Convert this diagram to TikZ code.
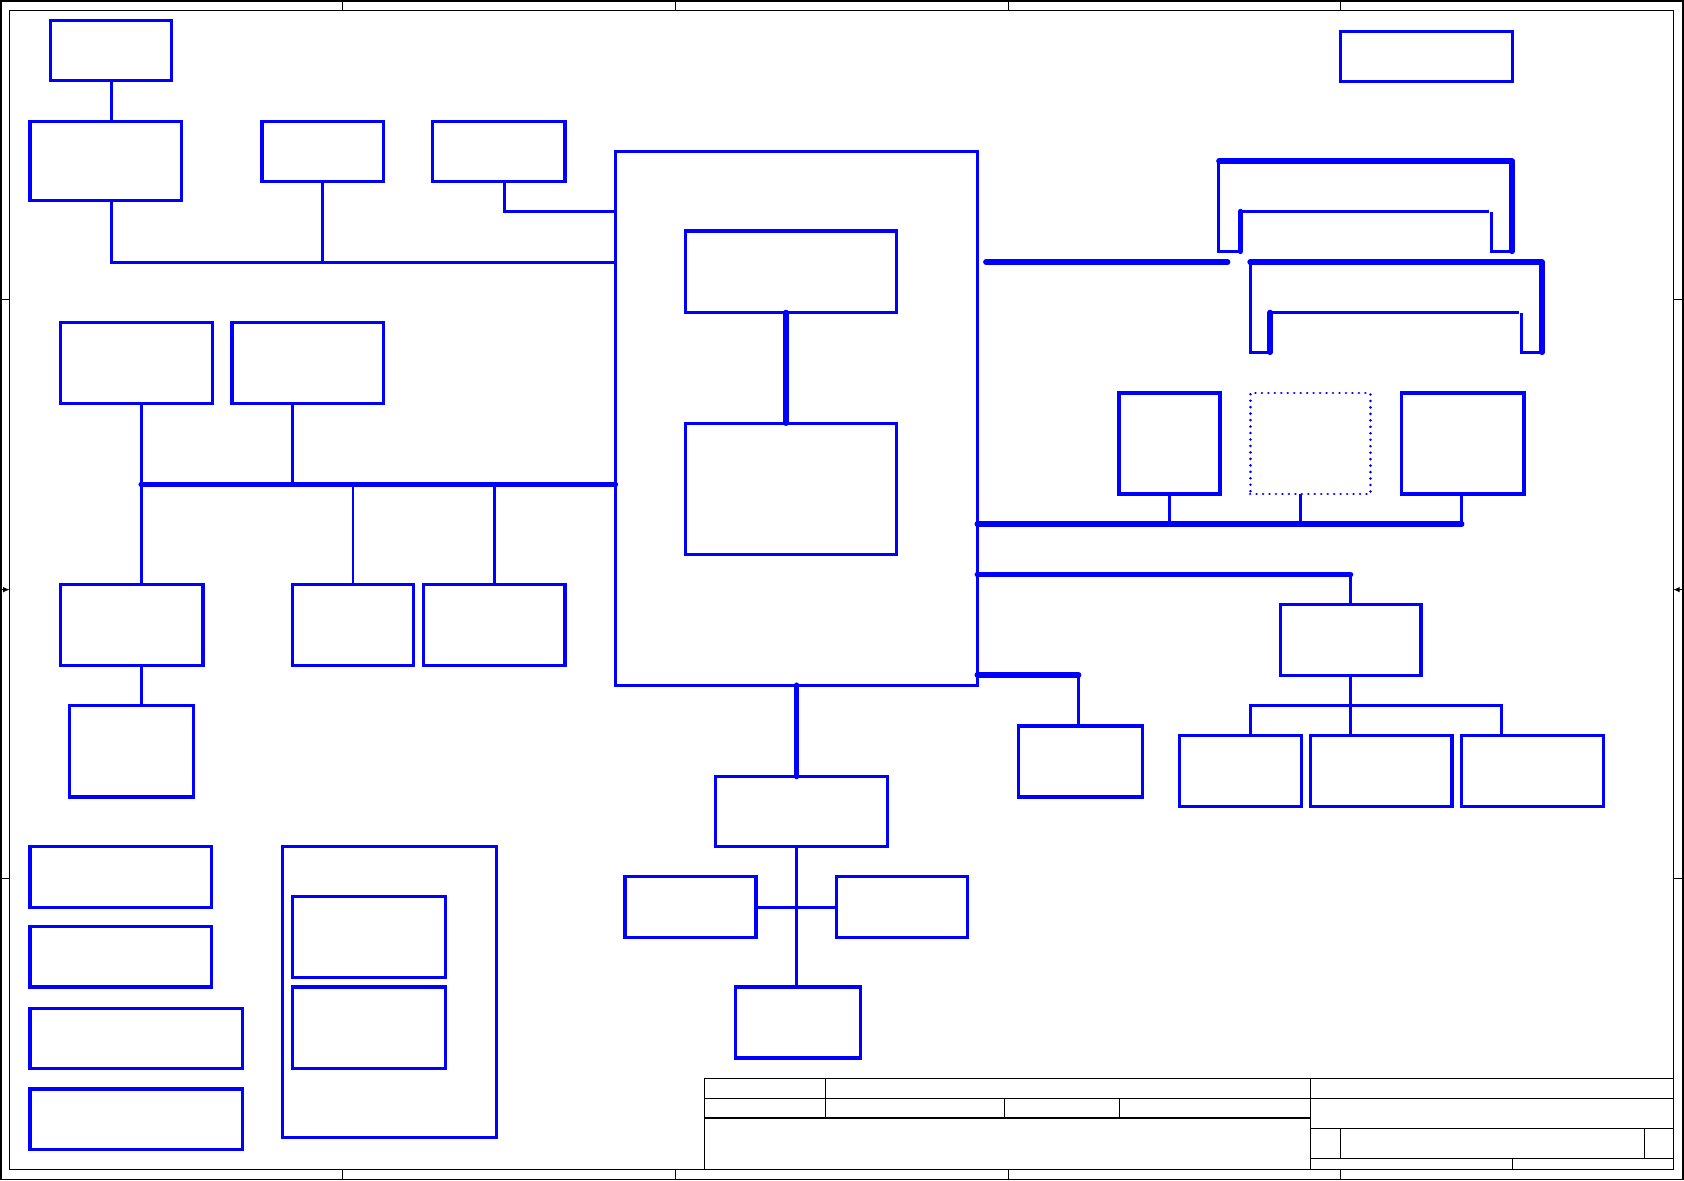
\documentclass[tikz,border=0pt]{standalone}
\usetikzlibrary{fit,arrows.meta}
\definecolor{sb}{RGB}{0,0,255}
\tikzset{
  box/.style={draw=sb, line width=1.5pt, inner sep=0pt, outer sep=0pt},
  dotbox/.style={draw=sb, line width=1.3pt, inner sep=0pt, outer sep=0pt, dash pattern=on 0.01pt off 3pt, line cap=round},
  wire/.style={draw=sb, line width=1.4pt},
  hairwire/.style={draw=sb, line width=0.9pt},
  bus/.style={draw=sb, line width=2.6pt, line cap=round, line join=round},
  frameline/.style={draw=black, line width=0.55pt},
}
\newcommand\bx[6][box]{\node[#1, fit={(#3,#4)(#5,#6)}] (#2) {};}
\begin{document}
\begin{tikzpicture}[x=0.5pt,y=-0.5pt]
\useasboundingbox (0,0) rectangle (1568,1099);
% ---------- sheet frame ----------
\draw[frameline] (1,1) rectangle (1567,1098);
\draw[frameline] (9,10) rectangle (1558,1089);
\foreach \x in {319,629,939,1248} {
  \draw[frameline] (\x,1) -- (\x,10);
  \draw[frameline] (\x,1089) -- (\x,1098);
}
\foreach \y in {279,818} {
  \draw[frameline] (1,\y) -- (9,\y);
  \draw[frameline] (1558,\y) -- (1567,\y);
}
\draw[frameline,-{Latex[length=3pt,width=2.6pt]}] (1,549) -- (9,549);
\draw[frameline,-{Latex[length=3pt,width=2.6pt]}] (1567,549) -- (1558,549);
% ---------- title block ----------
\draw[frameline] (656,1089) -- (656,1004) -- (1558,1004);
\draw[frameline] (656,1023) -- (1558,1023);
\draw[frameline] (656,1041) -- (1220,1041);
\draw[frameline] (769,1004) -- (769,1041);
\draw[frameline] (935,1023) -- (935,1041);
\draw[frameline] (1042,1023) -- (1042,1041);
\draw[frameline] (1220,1004) -- (1220,1089);
\draw[frameline] (1220,1051) -- (1558,1051);
\draw[frameline] (1248,1051) -- (1248,1079);
\draw[frameline] (1531,1051) -- (1531,1079);
\draw[frameline] (1220,1079) -- (1558,1079);
\draw[frameline] (1408,1079) -- (1408,1089);
% ---------- boxes ----------
\bx{b1}{47}{19}{160}{75}
\bx{b2}{28}{113}{169}{187}
\bx{b3}{244}{113}{357}{169}
\bx{b4}{403}{113}{526}{169}
\bx{m}{573}{141}{910}{638}
\bx{m1}{638}{215}{835}{291}
\bx{m2}{638}{394}{835}{516}
\bx{b5}{56}{300}{198}{376}
\bx{b6}{216}{300}{357}{376}
\bx{b7}{56}{544}{189}{620}
\bx{b8}{272}{544}{385}{620}
\bx{b9}{394}{544}{526}{620}
\bx{b10}{65}{657}{180}{742}
\bx{b11}{28}{788}{197}{845}
\bx{b12}{28}{863}{197}{919}
\bx{b13}{28}{939}{226}{995}
\bx{b14}{28}{1014}{226}{1070}
\bx{b15}{263}{788}{462}{1059}
\bx{b16}{272}{835}{415}{910}
\bx{b17}{272}{919}{415}{995}
\bx{b18}{666}{723}{826}{788}
\bx{b19}{582}{816}{704}{873}
\bx{b20}{779}{816}{901}{873}
\bx{b21}{685}{919}{801}{985}
\bx{b22}{1248}{29}{1408}{76}
\bx{b23}{1042}{366}{1136}{460}
\bx[dotbox]{b24}{1164}{366}{1276}{460}
\bx{b25}{1305}{366}{1419}{460}
\bx{b26}{1192}{563}{1323}{629}
\bx{b27}{1098}{685}{1212}{751}
\bx{b28}{1220}{685}{1352}{751}
\bx{b29}{1361}{685}{1493}{751}
\bx{b30}{948}{676}{1064}{742}
% ---------- helper coordinates ----------
\coordinate (y197) at (0,197);
\coordinate (y244) at (0,244);
\coordinate (y451) at (0,451);
\coordinate (y488) at (0,488);
\coordinate (y535) at (0,535);
\coordinate (y628) at (0,628.5);
\coordinate (y657) at (0,657);
\coordinate (y845) at (0,845);
% ---------- top-left connections ----------
\draw[wire] (b1.south) -- (b1.south |- b2.north);
\draw[wire] (b1.south |- b2.south) |- (m.west |- y244);
\coordinate (b3s) at (300.5,169);
\draw[wire] (b3s) -- (b3s |- y244);
\coordinate (b4s) at (470,169);
\draw[wire] (b4s) |- (m.west |- y197);
% ---------- left bus ----------
\coordinate (b5s) at (131.5,376);
\coordinate (b6s) at (272,376);
\coordinate (b8n) at (328.5,544);
\coordinate (b9n) at (460.5,544);
\draw[wire] (b5s) -- (b5s |- b7.north);
\draw[wire] (b6s) -- (b6s |- y451);
\draw[hairwire] (b8n) -- (b8n |- y451);
\draw[wire] (b9n) -- (b9n |- y451);
\draw[bus] (b5s |- y451) -- (m.west |- y451);
\draw[wire] (b5s |- b7.south) -- (b5s |- b10.north);
% ---------- inside main block ----------
\coordinate (mlink) at (731.8,291);
\draw[bus] (mlink) -- (mlink |- m2.north);
% ---------- below main block ----------
\coordinate (msouth) at (741.8,638);
\draw[bus] (msouth) -- (msouth |- b18.north);
\coordinate (b18s) at (741.5,788);
\draw[wire] (b18s) -- (b18s |- b21.north);
\draw[wire] (b19.east |- y845) -- (b20.west |- y845);
% ---------- right side buses ----------
\coordinate (busA) at (918,244);
\coordinate (busAe) at (1143,244);
\draw[bus] (busA) -- (busAe);
% bracket 1
\draw[wire] (1135,150) -- (1135,234) -- (1155,234);
\draw[bus] (1135,150) -- (1408,150) -- (1408,234);
\draw[bus] (1155,197) -- (1155,234);
\draw[wire] (1155,197) -- (1386,197);
\draw[wire] (1389,197) -- (1389,234) -- (1408,234);
% bracket 2
\draw[wire] (1164,244) -- (1164,328) -- (1182.5,328);
\draw[bus] (1164,244) -- (1436,244) -- (1436,328);
\draw[bus] (1182.5,291) -- (1182.5,328);
\draw[wire] (1182.5,291) -- (1414,291);
\draw[wire] (1417,291) -- (1417,328) -- (1436,328);
% bus to three modules
\coordinate (c23) at (1089,460);
\coordinate (c24) at (1211,460);
\coordinate (c25) at (1361,460);
\draw[bus] (m.east |- y488) -- (c25 |- y488);
\draw[wire] (c23) -- (c23 |- y488);
\draw[wire] (c24) -- (c24 |- y488);
\draw[wire] (c25) -- (c25 |- y488);
% bus to b26 tree
\coordinate (c26) at (1257.5,563);
\draw[bus] (m.east |- y535) -- (c26 |- y535);
\draw[wire] (c26 |- y535) -- (c26);
\draw[wire] (c26 |- b26.south) -- (c26 |- b28.north);
\coordinate (c27) at (1164,685);
\coordinate (c29) at (1398.5,685);
\draw[wire] (c27) |- (c29 |- y657) -- (c29);
% bus to b30
\coordinate (c30) at (1004.3,676);
\draw[bus] (m.east |- y628) -- (c30 |- y628);
\draw[wire] (c30 |- y628) -- (c30);
\end{tikzpicture}
\end{document}
